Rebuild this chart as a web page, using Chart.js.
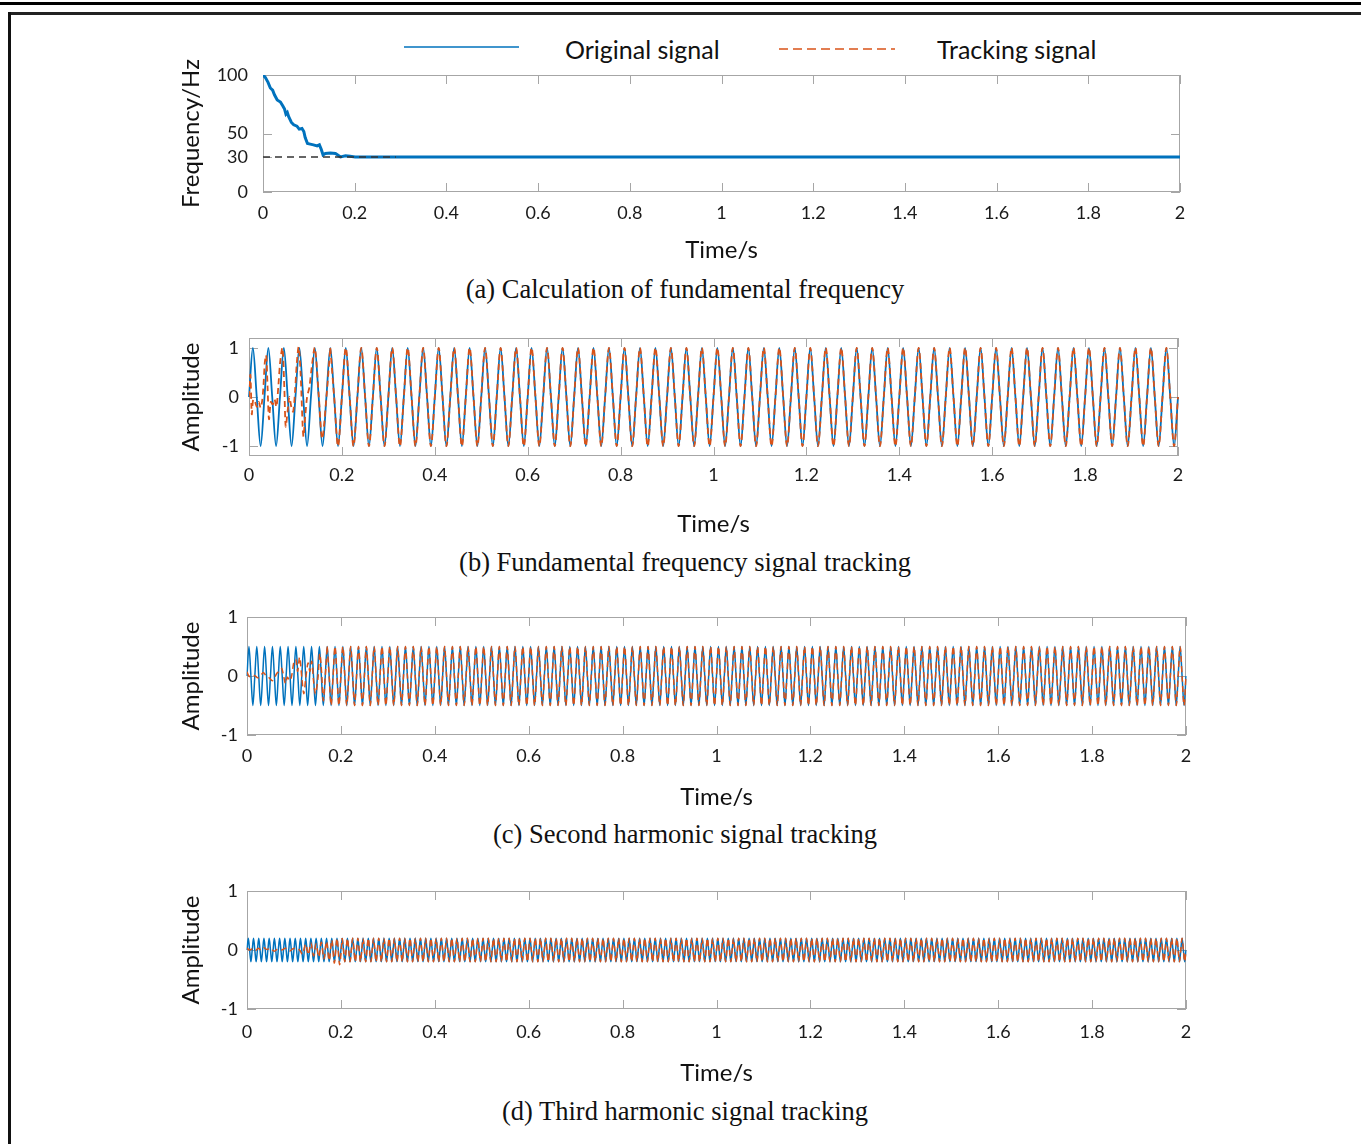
<!DOCTYPE html>
<html>
<head>
<meta charset="utf-8">
<script src="https://cdn.jsdelivr.net/npm/chart.js@4"></script>
<style>
  body { margin: 0; width: 1361px; height: 1144px; background: #fff; position: relative; overflow: hidden; font-family: Lato, sans-serif; }
  .rule { position: absolute; background: #111; }
  canvas.panel { position: absolute; }
  .cap { position: absolute; left: 0; width: 1370px; text-align: center; font-family: "Liberation Serif", serif; font-size: 26.5px; line-height: 30px; color: #111; }
  .leg { position: absolute; font-size: 25px; line-height: 28px; color: #111; white-space: nowrap; }
</style>
</head>
<body>
<div class="rule" style="left:0;top:2px;width:1361px;height:3px;background:#000"></div>
<div class="rule" style="left:8px;top:12px;width:1353px;height:3px;background:#222"></div>
<div class="rule" style="left:8px;top:12px;width:3px;height:1132px;background:#111"></div>

<svg style="position:absolute;left:0;top:30px" width="1361" height="40">
  <line x1="404" y1="17" x2="519" y2="17" stroke="#0072BD" stroke-width="1.5"/>
  <line x1="779" y1="19" x2="895" y2="19" stroke="#D95319" stroke-width="1.5" stroke-dasharray="9 5"/>
</svg>
<div class="leg" style="left:565px;top:35px">Original signal</div>
<div class="leg" style="left:937px;top:35px">Tracking signal</div>

<canvas class="panel" id="chartA"></canvas>
<canvas class="panel" id="chartB"></canvas>
<canvas class="panel" id="chartC"></canvas>
<canvas class="panel" id="chartD"></canvas>

<div class="cap" style="top:274px">(a) Calculation of fundamental frequency</div>
<div class="cap" style="top:547px">(b) Fundamental frequency signal tracking</div>
<div class="cap" style="top:819px">(c) Second harmonic signal tracking</div>
<div class="cap" style="top:1096px">(d) Third harmonic signal tracking</div>

<script>
// ticks
const timeTicks = [0, 0.2, 0.4, 0.6, 0.8, 1, 1.2, 1.4, 1.6, 1.8, 2];
const timeLabels = ['0', '0.2', '0.4', '0.6', '0.8', '1', '1.2', '1.4', '1.6', '1.8', '2'];
const freqTicks = [0, 30, 50, 100];
const ampTicks = [-1, 0, 1];

// (a) estimated fundamental frequency
const freqT = [0, 0.005, 0.011, 0.016, 0.021, 0.025, 0.031, 0.038, 0.043, 0.047, 0.05, 0.053, 0.056, 0.062, 0.067, 0.074, 0.079, 0.085, 0.089, 0.092, 0.097, 0.103, 0.11, 0.118, 0.123, 0.127, 0.131, 0.136, 0.147, 0.158, 0.163, 0.169, 0.18, 0.19, 0.201, 2];
const freqV = [100, 98, 93.7, 88.9, 87.1, 83.1, 78.6, 76.9, 73.7, 70.9, 66.6, 68, 64.3, 59.4, 57.4, 56.3, 53.7, 54.3, 51.7, 46.6, 41.4, 40.9, 40.3, 39.4, 40.3, 36.6, 31.7, 32.9, 33.4, 32.9, 31.7, 30, 30.9, 30.6, 30, 30];
const refT = [0, 0.29];
const refV = [30, 30];

// (b) original 30 Hz signal, read at every quarter period (0, peak, 0, trough ...)
const origB = [
  0,1,0,-1,0,1,0,-1,0,1,0,-1,0,1,0,-1,0,1,0,-1,0,1,0,-1,0,1,0,-1,0,1,0,-1,0,1,0,-1,0,1,0,-1,
  0,1,0,-1,0,1,0,-1,0,1,0,-1,0,1,0,-1,0,1,0,-1,0,1,0,-1,0,1,0,-1,0,1,0,-1,0,1,0,-1,0,1,0,-1,
  0,1,0,-1,0,1,0,-1,0,1,0,-1,0,1,0,-1,0,1,0,-1,0,1,0,-1,0,1,0,-1,0,1,0,-1,0,1,0,-1,0,1,0,-1,
  0,1,0,-1,0,1,0,-1,0,1,0,-1,0,1,0,-1,0,1,0,-1,0,1,0,-1,0,1,0,-1,0,1,0,-1,0,1,0,-1,0,1,0,-1,
  0,1,0,-1,0,1,0,-1,0,1,0,-1,0,1,0,-1,0,1,0,-1,0,1,0,-1,0,1,0,-1,0,1,0,-1,0,1,0,-1,0,1,0,-1,
  0,1,0,-1,0,1,0,-1,0,1,0,-1,0,1,0,-1,0,1,0,-1,0,1,0,-1,0,1,0,-1,0,1,0,-1,0,1,0,-1,0,1,0,-1,
  0
];
// tracking signal, start-up part (time, value); afterwards it follows the original
const trackBT = [0, 0.003, 0.006, 0.009, 0.013, 0.017, 0.021, 0.025, 0.028, 0.031, 0.034, 0.037, 0.040, 0.043, 0.047, 0.051, 0.055, 0.059, 0.063, 0.067, 0.072, 0.076, 0.079, 0.083, 0.087, 0.091, 0.095, 0.099, 0.103, 0.107, 0.111, 0.117, 0.121, 0.125, 0.13, 0.135, 0.1417, 0.15, 0.1575, 0.1667, 0.175];
const trackBV = [0, 0.45, -0.35, -0.05, -0.1, -0.2, -0.1, -0.22, -0.1, 0.2, 0.7, 0.85, 0.2, -0.45, -0.1, -0.15, -0.05, -0.2, 0.2, 0.7, 1.0, 0.2, -0.6, -0.3, 0.0, -0.2, -0.3, 0.1, 0.7, 1.02, 0.5, -0.8, -0.4, 0.0, 0.2, 0.6, 1.0, 0.05, -0.85, 0, 1];
const joinB = 21;

// (c) second harmonic, 60 Hz, amplitude 0.5
const origC = [
  0,.5,0,-.5,0,.5,0,-.5,0,.5,0,-.5,0,.5,0,-.5,0,.5,0,-.5,0,.5,0,-.5,0,.5,0,-.5,0,.5,0,-.5,0,.5,0,-.5,0,.5,0,-.5,
  0,.5,0,-.5,0,.5,0,-.5,0,.5,0,-.5,0,.5,0,-.5,0,.5,0,-.5,0,.5,0,-.5,0,.5,0,-.5,0,.5,0,-.5,0,.5,0,-.5,0,.5,0,-.5,
  0,.5,0,-.5,0,.5,0,-.5,0,.5,0,-.5,0,.5,0,-.5,0,.5,0,-.5,0,.5,0,-.5,0,.5,0,-.5,0,.5,0,-.5,0,.5,0,-.5,0,.5,0,-.5,
  0,.5,0,-.5,0,.5,0,-.5,0,.5,0,-.5,0,.5,0,-.5,0,.5,0,-.5,0,.5,0,-.5,0,.5,0,-.5,0,.5,0,-.5,0,.5,0,-.5,0,.5,0,-.5,
  0,.5,0,-.5,0,.5,0,-.5,0,.5,0,-.5,0,.5,0,-.5,0,.5,0,-.5,0,.5,0,-.5,0,.5,0,-.5,0,.5,0,-.5,0,.5,0,-.5,0,.5,0,-.5,
  0,.5,0,-.5,0,.5,0,-.5,0,.5,0,-.5,0,.5,0,-.5,0,.5,0,-.5,0,.5,0,-.5,0,.5,0,-.5,0,.5,0,-.5,0,.5,0,-.5,0,.5,0,-.5,
  0,.5,0,-.5,0,.5,0,-.5,0,.5,0,-.5,0,.5,0,-.5,0,.5,0,-.5,0,.5,0,-.5,0,.5,0,-.5,0,.5,0,-.5,0,.5,0,-.5,0,.5,0,-.5,
  0,.5,0,-.5,0,.5,0,-.5,0,.5,0,-.5,0,.5,0,-.5,0,.5,0,-.5,0,.5,0,-.5,0,.5,0,-.5,0,.5,0,-.5,0,.5,0,-.5,0,.5,0,-.5,
  0,.5,0,-.5,0,.5,0,-.5,0,.5,0,-.5,0,.5,0,-.5,0,.5,0,-.5,0,.5,0,-.5,0,.5,0,-.5,0,.5,0,-.5,0,.5,0,-.5,0,.5,0,-.5,
  0,.5,0,-.5,0,.5,0,-.5,0,.5,0,-.5,0,.5,0,-.5,0,.5,0,-.5,0,.5,0,-.5,0,.5,0,-.5,0,.5,0,-.5,0,.5,0,-.5,0,.5,0,-.5,
  0,.5,0,-.5,0,.5,0,-.5,0,.5,0,-.5,0,.5,0,-.5,0,.5,0,-.5,0,.5,0,-.5,0,.5,0,-.5,0,.5,0,-.5,0,.5,0,-.5,0,.5,0,-.5,
  0,.5,0,-.5,0,.5,0,-.5,0,.5,0,-.5,0,.5,0,-.5,0,.5,0,-.5,0,.5,0,-.5,0,.5,0,-.5,0,.5,0,-.5,0,.5,0,-.5,0,.5,0,-.5,
  0
];
const trackCT = [0, 0.004, 0.009, 0.016, 0.023, 0.03, 0.035, 0.041, 0.047, 0.054, 0.059, 0.064, 0.07, 0.074, 0.078, 0.082, 0.086, 0.091, 0.095, 0.1, 0.104, 0.108, 0.112, 0.117, 0.121, 0.125, 0.13, 0.134, 0.138, 0.142, 0.146, 0.151, 0.155, 0.159, 0.1625, 0.1667, 0.1708];
const trackCV = [0.07, 0, -0.02, 0.01, -0.03, 0.02, 0.06, 0, -0.03, -0.08, -0.02, 0.05, 0.09, 0.13, 0, -0.13, -0.02, -0.08, 0, 0.24, 0.28, 0.08, 0.32, -0.05, -0.3, -0.05, 0.22, 0.08, 0.25, -0.1, -0.3, -0.05, 0.38, 0.05, -0.42, 0, 0.5];
const joinC = 41;

// (d) third harmonic, 90 Hz, amplitude 0.2
const origD = [
  0,.2,0,-.2,0,.2,0,-.2,0,.2,0,-.2,0,.2,0,-.2,0,.2,0,-.2,0,.2,0,-.2,0,.2,0,-.2,0,.2,0,-.2,0,.2,0,-.2,0,.2,0,-.2,
  0,.2,0,-.2,0,.2,0,-.2,0,.2,0,-.2,0,.2,0,-.2,0,.2,0,-.2,0,.2,0,-.2,0,.2,0,-.2,0,.2,0,-.2,0,.2,0,-.2,0,.2,0,-.2,
  0,.2,0,-.2,0,.2,0,-.2,0,.2,0,-.2,0,.2,0,-.2,0,.2,0,-.2,0,.2,0,-.2,0,.2,0,-.2,0,.2,0,-.2,0,.2,0,-.2,0,.2,0,-.2,
  0,.2,0,-.2,0,.2,0,-.2,0,.2,0,-.2,0,.2,0,-.2,0,.2,0,-.2,0,.2,0,-.2,0,.2,0,-.2,0,.2,0,-.2,0,.2,0,-.2,0,.2,0,-.2,
  0,.2,0,-.2,0,.2,0,-.2,0,.2,0,-.2,0,.2,0,-.2,0,.2,0,-.2,0,.2,0,-.2,0,.2,0,-.2,0,.2,0,-.2,0,.2,0,-.2,0,.2,0,-.2,
  0,.2,0,-.2,0,.2,0,-.2,0,.2,0,-.2,0,.2,0,-.2,0,.2,0,-.2,0,.2,0,-.2,0,.2,0,-.2,0,.2,0,-.2,0,.2,0,-.2,0,.2,0,-.2,
  0,.2,0,-.2,0,.2,0,-.2,0,.2,0,-.2,0,.2,0,-.2,0,.2,0,-.2,0,.2,0,-.2,0,.2,0,-.2,0,.2,0,-.2,0,.2,0,-.2,0,.2,0,-.2,
  0,.2,0,-.2,0,.2,0,-.2,0,.2,0,-.2,0,.2,0,-.2,0,.2,0,-.2,0,.2,0,-.2,0,.2,0,-.2,0,.2,0,-.2,0,.2,0,-.2,0,.2,0,-.2,
  0,.2,0,-.2,0,.2,0,-.2,0,.2,0,-.2,0,.2,0,-.2,0,.2,0,-.2,0,.2,0,-.2,0,.2,0,-.2,0,.2,0,-.2,0,.2,0,-.2,0,.2,0,-.2,
  0,.2,0,-.2,0,.2,0,-.2,0,.2,0,-.2,0,.2,0,-.2,0,.2,0,-.2,0,.2,0,-.2,0,.2,0,-.2,0,.2,0,-.2,0,.2,0,-.2,0,.2,0,-.2,
  0,.2,0,-.2,0,.2,0,-.2,0,.2,0,-.2,0,.2,0,-.2,0,.2,0,-.2,0,.2,0,-.2,0,.2,0,-.2,0,.2,0,-.2,0,.2,0,-.2,0,.2,0,-.2,
  0,.2,0,-.2,0,.2,0,-.2,0,.2,0,-.2,0,.2,0,-.2,0,.2,0,-.2,0,.2,0,-.2,0,.2,0,-.2,0,.2,0,-.2,0,.2,0,-.2,0,.2,0,-.2,
  0,.2,0,-.2,0,.2,0,-.2,0,.2,0,-.2,0,.2,0,-.2,0,.2,0,-.2,0,.2,0,-.2,0,.2,0,-.2,0,.2,0,-.2,0,.2,0,-.2,0,.2,0,-.2,
  0,.2,0,-.2,0,.2,0,-.2,0,.2,0,-.2,0,.2,0,-.2,0,.2,0,-.2,0,.2,0,-.2,0,.2,0,-.2,0,.2,0,-.2,0,.2,0,-.2,0,.2,0,-.2,
  0,.2,0,-.2,0,.2,0,-.2,0,.2,0,-.2,0,.2,0,-.2,0,.2,0,-.2,0,.2,0,-.2,0,.2,0,-.2,0,.2,0,-.2,0,.2,0,-.2,0,.2,0,-.2,
  0,.2,0,-.2,0,.2,0,-.2,0,.2,0,-.2,0,.2,0,-.2,0,.2,0,-.2,0,.2,0,-.2,0,.2,0,-.2,0,.2,0,-.2,0,.2,0,-.2,0,.2,0,-.2,
  0,.2,0,-.2,0,.2,0,-.2,0,.2,0,-.2,0,.2,0,-.2,0,.2,0,-.2,0,.2,0,-.2,0,.2,0,-.2,0,.2,0,-.2,0,.2,0,-.2,0,.2,0,-.2,
  0,.2,0,-.2,0,.2,0,-.2,0,.2,0,-.2,0,.2,0,-.2,0,.2,0,-.2,0,.2,0,-.2,0,.2,0,-.2,0,.2,0,-.2,0,.2,0,-.2,0,.2,0,-.2,
  0
];
const trackDT = [0, 0.006, 0.012, 0.018, 0.024, 0.03, 0.036, 0.042, 0.05, 0.058, 0.066, 0.074, 0.082, 0.09, 0.098, 0.106, 0.112, 0.118, 0.125, 0.1306, 0.1361, 0.1417, 0.1472, 0.1528, 0.1583, 0.1639, 0.1694, 0.175, 0.1806, 0.1861, 0.1917, 0.1972, 0.2028];
const trackDV = [0.03, 0, 0.02, -0.01, 0.03, 0, 0.04, 0.01, 0.03, -0.02, 0.02, 0, 0.03, -0.02, 0.02, 0.03, 0, -0.07, 0.1, -0.08, 0.12, -0.1, 0.1, -0.12, 0.13, -0.15, 0.15, -0.18, 0.17, -0.22, 0.2, -0.25, 0.2];
const joinD = 73;

const BLUE = '#0072BD';
const ORANGE = '#D95319';
const FRAME = '#a6a6a6';

const zip = (xs, ys) => xs.map((x, i) => ({ x: x, y: ys[i] }));

// box + inward tick marks, MATLAB style
const framePlugin = {
  id: 'frame',
  beforeDatasetsDraw(chart) {
    const { ctx, chartArea: a, scales } = chart;
    const len = 9;
    ctx.save();
    ctx.strokeStyle = FRAME;
    ctx.lineWidth = 1;
    ctx.strokeRect(a.left + 0.5, a.top + 0.5, a.width - 1, a.height - 1);
    ctx.beginPath();
    scales.x.ticks.forEach(t => {
      const px = Math.round(scales.x.getPixelForValue(t.value)) + 0.5;
      ctx.moveTo(px, a.top); ctx.lineTo(px, a.top + len);
      ctx.moveTo(px, a.bottom); ctx.lineTo(px, a.bottom - len);
    });
    scales.y.ticks.forEach(t => {
      const py = Math.round(scales.y.getPixelForValue(t.value)) + 0.5;
      ctx.moveTo(a.left, py); ctx.lineTo(a.left + len, py);
      ctx.moveTo(a.right, py); ctx.lineTo(a.right - len, py);
    });
    ctx.stroke();
    ctx.restore();
  }
};

function drawPanel(id, box, yMin, yMax, yTicks, yTitle, labels, datasets) {
  const left = 160, padTop = box.padTop || 12, padRight = 25;
  const cv = document.getElementById(id);
  cv.width = box.r - left + padRight;
  cv.height = box.b - box.t + padTop + box.xh;
  cv.style.left = left + 'px';
  cv.style.top = (box.t - padTop) + 'px';

  const scales = {
    x: {
      type: 'linear', position: 'bottom', min: 0, max: 2,
      afterBuildTicks: s => { s.ticks = timeTicks.map(v => ({ value: v })); },
      afterFit: s => { s.height = box.xh; s.paddingLeft = 0; s.paddingRight = 0; },
      grid: { display: false, drawTicks: false },
      border: { display: false },
      ticks: {
        padding: box.xPad, autoSkip: false, maxRotation: 0, color: '#1a1a1a',
        font: { family: 'Lato', size: 18 },
        callback: (v, i) => timeLabels[i]
      },
      title: { display: true, text: 'Time/s', color: '#111', font: { family: 'Lato', size: 24 }, padding: { top: 0, bottom: 2 } }
    },
    y: {
      type: 'linear', min: yMin, max: yMax,
      afterBuildTicks: s => { s.ticks = yTicks.map(v => ({ value: v })); },
      afterFit: s => { s.width = box.l - left; s.paddingTop = 0; s.paddingBottom = 0; },
      grid: { display: false, drawTicks: false },
      border: { display: false },
      ticks: { padding: box.yPad, color: '#1a1a1a', font: { family: 'Lato', size: 18 }, callback: v => String(v) },
      title: { display: true, text: yTitle, color: '#111', font: { family: 'Lato', size: 24 }, padding: { top: 17, bottom: 0 } }
    }
  };
  if (labels) scales.xi = { type: 'category', display: false, offset: false };

  new Chart(cv, {
    type: 'line',
    data: { labels: labels || [], datasets: datasets },
    options: {
      responsive: false,
      animation: false,
      layout: { padding: { top: padTop, right: padRight, left: 0, bottom: 0 } },
      elements: { point: { radius: 0 } },
      plugins: { legend: { display: false }, tooltip: { enabled: false } },
      scales: scales
    },
    plugins: [framePlugin]
  });
}

function waveSets(orig, join, trackT, trackV, width) {
  return [
    { data: zip(trackT, trackV), xAxisID: 'x', borderColor: ORANGE, borderWidth: width, borderDash: [6, 4], tension: 0.3, order: 0 },
    { data: orig.map((v, i) => (i < join ? null : v)), xAxisID: 'xi', borderColor: ORANGE, borderWidth: width, borderDash: [6, 4], cubicInterpolationMode: 'monotone', order: 1 },
    { data: orig, xAxisID: 'xi', borderColor: BLUE, borderWidth: width, cubicInterpolationMode: 'monotone', order: 2 }
  ];
}

// (a)
drawPanel('chartA', { l: 263, r: 1180, t: 75, b: 192, xh: 75, xPad: 10, yPad: 15, padTop: 30 },
  0, 100, freqTicks, 'Frequency/Hz', null, [
    { data: zip(refT, refV), xAxisID: 'x', borderColor: '#333', borderWidth: 1.5, borderDash: [7, 5], order: 0 },
    { data: zip(freqT, freqV), xAxisID: 'x', borderColor: BLUE, borderWidth: 3, tension: 0, order: 1 }
  ]);

// (b)
drawPanel('chartB', { l: 249, r: 1178, t: 338, b: 456, xh: 85, xPad: 8, yPad: 10 },
  -1.2, 1.2, ampTicks, 'Amplitude', origB.map((v, i) => i),
  waveSets(origB, joinB, trackBT, trackBV, 1.8));

// (c)
drawPanel('chartC', { l: 247, r: 1186, t: 617, b: 735, xh: 79, xPad: 10, yPad: 9 },
  -1, 1, ampTicks, 'Amplitude', origC.map((v, i) => i),
  waveSets(origC, joinC, trackCT, trackCV, 1.5));

// (d)
drawPanel('chartD', { l: 247, r: 1186, t: 891, b: 1009, xh: 81, xPad: 12, yPad: 9 },
  -1, 1, ampTicks, 'Amplitude', origD.map((v, i) => i),
  waveSets(origD, joinD, trackDT, trackDV, 1.5));
</script>
</body>
</html>
